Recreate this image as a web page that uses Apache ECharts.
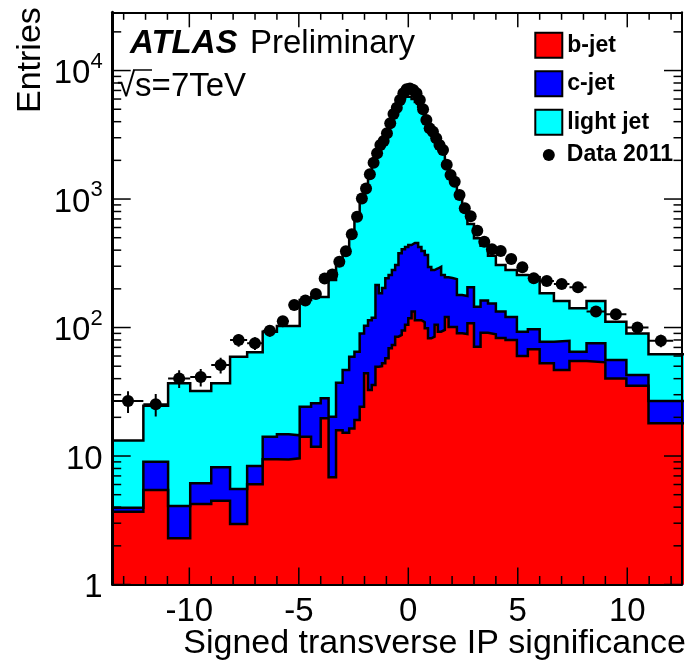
<!DOCTYPE html>
<html>
<head>
<meta charset="utf-8">
<script src="https://cdn.jsdelivr.net/npm/echarts@6/dist/echarts.min.js"></script>
<style>
html,body{margin:0;padding:0;background:#fff;}
#c{width:685px;height:672px;}
</style>
</head>
<body>
<div id="c"></div>
<script>
// ---- bin edges of the signed transverse IP significance histogram ----
const binEdges = [-13.5,-12.1,-10.97,-9.96,-9.0,-8.14,-7.36,-6.65,-6.0,-5.46,
  -4.96,-4.44,-4.0,-3.64,-3.3,-3.0,-2.7,-2.46,-2.22,-2.02,
  -1.84,-1.67,-1.5,-1.35,-1.2,-1.05,-0.9,-0.75,-0.6,-0.45,
  -0.3,-0.15,0,0.15,0.3,0.45,0.6,0.75,0.9,1.05,
  1.2,1.35,1.5,1.67,1.84,2.02,2.22,2.46,2.7,3.0,
  3.3,3.64,4.0,4.44,4.96,5.46,6.0,6.65,7.36,8.14,
  9.0,9.96,10.97,12.1,13.5];

// stacked MC: top of b-jet, top of b+c, top of b+c+light (entries per bin)
const bJet = [3.69,5.44,2.29,4.23,4.49,2.96,6.02,9.43,9.4,9.6,
  14.1,11.8,19.7,6.83,15.9,15.2,16.4,19.1,24.2,44,
  32.6,35.7,49.5,50,52.7,57.6,69.1,73,84.8,87.5,
  95,105,118,133,114,114,110,98.6,82.4,84.8,
  105,92.7,95.7,121,101,101,90.1,89,108,70.9,
  91.2,88.7,83,80,60,67.7,52.6,46.7,54.8,53.6,
  40.2,35.2,18.0,18.0];
const bcStack = [3.96,9.03,4.08,6.13,8.17,5.53,8.36,14.1,14.8,14.5,
  24.2,25.7,28.1,20.2,37.2,46.7,59.3,64.8,90,103,
  114,119,214,185,203,242,256,280,306,378,
  406,423,439,455,455,423,394,366,296,280,
  288,297,256,246,243,238,179,176,206,145,
  162,154,133,121,92.7,96.8,77.5,78.9,64.8,75.4,
  55.8,42.7,26.8,26.8];
const allStack = [13.2,24.6,36.8,32.1,36.8,59.3,64.1,92.7,102.7,102.7,
  164,173,173,234,306,373,506,699,960,1190,
  1480,1830,2170,2500,2700,3100,3700,4350,4900,5500,
  6000,6250,6250,6000,5700,5200,4700,3950,3400,3150,
  2800,2480,2250,1800,1480,1300,1020,800,640,496,
  433,362,306,280,256,247,185,161,141,161,
  111,90,62,62];
// data 2011 (entries per bin)
const data2011 = [26.8,25.3,40.2,41.2,51.1,79.9,75.4,94.5,112,150,
  162,182,241,259,325,393,531,728,1010,1210,
  1556,1916,2268,2631,2826,3245,3883,4585,5140,5893,
  6650,7140,7265,7050,6650,5893,5000,4122,3548,3340,
  2966,2631,2406,1850,1537,1364,1074,847,733,567,
  465,406,394,341,294,242,230,218,206,133,
  127,100,79,null];

// ticks
const xMajorTicks = [-10,-5,0,5,10];
const xMinorTicks = [-13,-12,-11,-9,-8,-7,-6,-4,-3,-2,-1,1,2,3,4,6,7,8,9,11,12];
const yMajorTicks = [1,10,100,1000,10000];
const yMinorTicks = [2,3,4,5,6,7,8,9,20,30,40,50,60,70,80,90,200,300,400,500,600,700,800,900,
  2000,3000,4000,5000,6000,7000,8000,9000,20000];

const X_MIN = -13.5, X_MAX = 12.5, Y_MIN = 1, Y_MAX = 28400;
const FONT = '"Liberation Sans", Arial, Helvetica, sans-serif';

const n = bJet.length;
function stepData(v) {
  const d = [];
  for (let i = 0; i < n; i++) d.push([binEdges[i], v[i]]);
  d.push([binEdges[n], v[n - 1]]);
  return d;
}
const pts = [], errs = [];
for (let i = 0; i < n; i++) {
  const v = data2011[i];
  if (v == null) continue;
  const c = (binEdges[i] + binEdges[i + 1]) / 2;
  const e = Math.sqrt(v);
  pts.push([c, v]);
  errs.push([c, v, binEdges[i], binEdges[i + 1], v - e, v + e]);
}

function histSeries(name, vals, fill) {
  return {
    type: 'line', name: name, data: stepData(vals), step: 'end',
    symbol: 'none', showSymbol: false, clip: true,
    itemStyle: { color: fill },
    lineStyle: { color: '#000', width: 2.5, join: 'miter' },
    areaStyle: { color: fill, opacity: 1, origin: 'start' },
    emphasis: { disabled: true }, silent: true
  };
}

const chart = echarts.init(document.getElementById('c'), null, { renderer: 'canvas' });
chart.setOption({
  animation: false,
  backgroundColor: '#fff',
  grid: { left: 112.7, right: -2.8, top: 12.3, bottom: 87.5, containLabel: false },
  xAxis: [{
    type: 'value', min: X_MIN, max: X_MAX, position: 'bottom', z: 10,
    axisLine: { show: true, onZero: false, lineStyle: { color: '#000', width: 2 } },
    axisTick: { show: false }, splitLine: { show: false },
    axisLabel: {
      color: '#000', fontSize: 33, fontFamily: FONT, margin: 11,
      formatter: v => (Math.abs(v % 5) < 1e-9 ? String(v) : '')
    }
  }, {
    type: 'value', min: X_MIN, max: X_MAX, position: 'top', z: 10,
    axisLine: { show: true, onZero: false, lineStyle: { color: '#000', width: 2 } },
    axisTick: { show: false }, axisLabel: { show: false }, splitLine: { show: false }
  }],
  yAxis: [{
    type: 'log', logBase: 10, min: Y_MIN, max: Y_MAX, position: 'left', z: 10,
    axisLine: { show: true, onZero: false, lineStyle: { color: '#000', width: 3 } },
    axisTick: { show: false }, splitLine: { show: false },
    axisLabel: {
      margin: 10, color: '#000',
      formatter: v => {
        const l = Math.log10(v), e = Math.round(l);
        if (Math.abs(l - e) > 1e-6) return '';
        if (e === 0) return '{b|1}';
        if (e === 1) return '{b|10}';
        return '{b|10}{s|' + e + '}';
      },
      rich: {
        b: { fontSize: 33, fontFamily: FONT, color: '#000', lineHeight: 40, verticalAlign: 'bottom' },
        s: { fontSize: 22, fontFamily: FONT, color: '#000', lineHeight: 22, verticalAlign: 'top' }
      }
    }
  }, {
    type: 'log', logBase: 10, min: Y_MIN, max: Y_MAX, position: 'right', z: 10,
    axisLine: { show: true, onZero: false, lineStyle: { color: '#000', width: 2 } },
    axisTick: { show: false }, axisLabel: { show: false }, splitLine: { show: false }
  }],
  legend: [{
    data: ['b-jet', 'c-jet', 'light jet'], orient: 'vertical', left: 534.3, top: 31.7,
    itemWidth: 27, itemHeight: 25, itemGap: 11.5, icon: 'rect', padding: 0, selectedMode: false,
    itemStyle: { borderColor: '#000', borderWidth: 2 },
    textStyle: { fontSize: 23, fontWeight: 'bold', fontFamily: FONT, color: '#000', lineHeight: 25 }
  }, {
    data: ['Data 2011'], orient: 'vertical', left: 542.8, top: 142.5,
    itemWidth: 12, itemHeight: 12, icon: 'circle', padding: 0, selectedMode: false,
    itemStyle: { color: '#000', borderWidth: 0, opacity: 1 },
    textStyle: { fontSize: 23, fontWeight: 'bold', fontFamily: FONT, color: '#000', lineHeight: 25, padding: [0, 0, 0, 7] }
  }],
  graphic: [
    { type: 'text', x: 130, y: 43.5, style: { text: 'ATLAS', font: 'italic bold 33px ' + FONT, fill: '#000', verticalAlign: 'middle' } },
    { type: 'text', x: 250, y: 43.5, style: { text: 'Preliminary', font: '33px ' + FONT, fill: '#000', verticalAlign: 'middle' } },
    { type: 'text', x: 117, y: 87, style: { text: '√s=7TeV', font: '33px ' + FONT, fill: '#000', verticalAlign: 'middle' } },
    { type: 'line', shape: { x1: 133, y1: 70, x2: 152, y2: 70 }, style: { stroke: '#000', lineWidth: 1.5 } },
    { type: 'text', x: 686, y: 644, style: { text: 'Signed transverse IP significance', font: '34px ' + FONT, fill: '#000', align: 'right', verticalAlign: 'middle' } },
    { type: 'text', x: 31, y: 113, rotation: Math.PI / 2, style: { text: 'Entries', font: '34px ' + FONT, fill: '#000', align: 'left', verticalAlign: 'middle' } }
  ],
  series: [
    histSeries('light jet', allStack, '#00ffff'),
    histSeries('c-jet', bcStack, '#0000ff'),
    histSeries('b-jet', bJet, '#ff0000'),
    {
      type: 'custom', name: 'errors', data: errs, z: 4, clip: true, silent: true,
      renderItem: function (params, api) {
        const c = api.coord([api.value(0), api.value(1)]);
        const lo = api.coord([api.value(2), api.value(1)]);
        const hi = api.coord([api.value(3), api.value(1)]);
        const yl = api.coord([api.value(0), api.value(4)]);
        const yh = api.coord([api.value(0), api.value(5)]);
        return { type: 'group', children: [
          { type: 'line', shape: { x1: lo[0], y1: c[1], x2: hi[0], y2: c[1] }, style: { stroke: '#000', lineWidth: 2 } },
          { type: 'line', shape: { x1: c[0], y1: yl[1], x2: c[0], y2: yh[1] }, style: { stroke: '#000', lineWidth: 2 } }
        ] };
      }
    },
    {
      type: 'scatter', name: 'Data 2011', data: pts, symbol: 'circle', symbolSize: 12, z: 5,
      itemStyle: { color: '#000', opacity: 1 }, silent: true
    },
    {
      type: 'custom', name: 'frameTicks', data: [[0, 1]], z: 12, clip: false, silent: true,
      renderItem: function (params, api) {
        const cs = params.coordSys;
        const x0 = cs.x, x1 = cs.x + cs.width, y0 = cs.y, y1 = cs.y + cs.height;
        const ch = [];
        const ln = (a, b, c, d) => ch.push({ type: 'line', shape: { x1: a, y1: b, x2: c, y2: d }, style: { stroke: '#000', lineWidth: 1.5 } });
        xMajorTicks.forEach(v => { const p = api.coord([v, Y_MIN])[0]; ln(p, y1, p, y1 - 17); ln(p, y0, p, y0 + 15); });
        xMinorTicks.forEach(v => { const p = api.coord([v, Y_MIN])[0]; ln(p, y1, p, y1 - 8.5); ln(p, y0, p, y0 + 7.5); });
        yMajorTicks.forEach(v => { const p = api.coord([0, v])[1]; ln(x0, p, x0 + 18, p); ln(x1, p, x1 - 18, p); });
        yMinorTicks.forEach(v => { const p = api.coord([0, v])[1]; ln(x0, p, x0 + 8.5, p); ln(x1, p, x1 - 8.5, p); });
        return { type: 'group', children: ch };
      }
    }
  ]
});
</script>
</body>
</html>
